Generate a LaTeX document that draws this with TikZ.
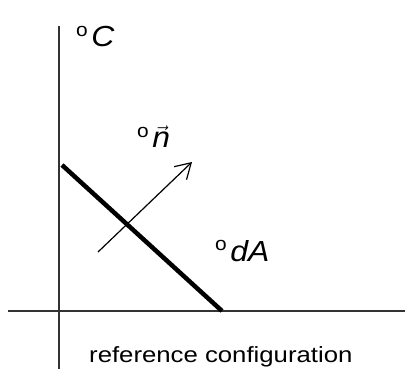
\documentclass[tikz,border=0pt]{standalone}
\usepackage{fontspec}
\usepackage{amsmath}
\usetikzlibrary{arrows.meta, positioning}
\newfontfamily\labelfont[FakeStretch=1.1]{Liberation Sans}
\newfontfamily\captfont[FakeStretch=1.17]{Liberation Sans}
\definecolor{AxisGrey}{HTML}{333333}
\newcommand{\supo}{\raisebox{0.36em}{\fontsize{19pt}{19pt}\selectfont o}\hspace{0.12em}}
\tikzset{
  % Axis line
  axis/.style={
    line width=1.2pt, draw=AxisGrey
  },
  % Surface element
  surface/.style={
    line width=4.5pt, draw=black
  },
  % Normal arrow
  normal/.style={
    -{Straight Barb[length=15pt,width=18pt,line width=1.2pt]},
    line width=1.2pt, draw=black
  },
  % Label text
  lbl/.style={
    anchor=base west, inner sep=0pt,
    font=\labelfont\fontsize{29pt}{32pt}\selectfont
  },
  % Caption text
  capt/.style={
    anchor=base west, inner sep=0pt,
    font=\captfont\fontsize{22pt}{26pt}\selectfont
  }
}
\begin{document}
\begin{tikzpicture}[x=1pt, y=-1pt]

\useasboundingbox (0,0) rectangle (405,369);

% ── axes ─────────────────────────────────────────────
\coordinate (ax_top)   at (59,26);
\coordinate (ax_bot)   at (59,369);
\coordinate (ax_left)  at (8,311);
\coordinate (ax_right) at (405,311);
\draw[axis] (ax_top)  -- (ax_bot);
\draw[axis] (ax_left) -- (ax_right);

% ── surface element and normal ───────────────────────
\coordinate (dA_start) at (62,165);
\coordinate (dA_end)   at (222,311);
\draw[surface] (dA_start) -- (dA_end);

\coordinate (n_start) at (98,252);
\coordinate (n_tip)   at (192,162);
\draw[normal] (n_start) -- (n_tip);

% ── labels ───────────────────────────────────────────
\node[lbl] (lbl_C)  at (76,47)   {\supo\textit{C}};
\node[lbl] (lbl_n)  at (137,148) {\supo$\vec{\textit{n}}$};
\node[lbl] (lbl_dA) at (215,261) {\supo\textit{dA}};
\node[capt] (caption) at (89,362) {reference configuration};

\end{tikzpicture}
\end{document}
